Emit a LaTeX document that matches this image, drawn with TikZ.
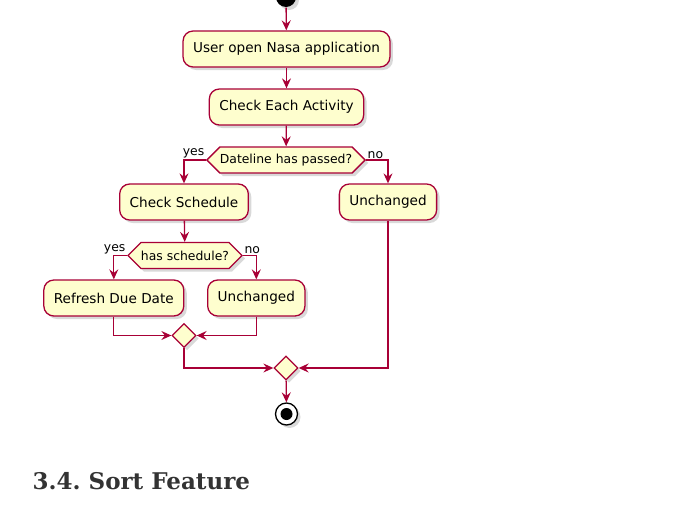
\documentclass[tikz,border=0pt]{standalone}
\usepackage{fontspec}
\setmainfont{DejaVu Sans}
\newfontfamily\headfont{DejaVu Serif}
\usepackage{tikz}
\usetikzlibrary{shapes,shapes.symbols,arrows.meta,shadows,positioning}
\definecolor{umlred}{HTML}{A80036}
\definecolor{umlfill}{HTML}{FEFECE}
\definecolor{headgray}{HTML}{333333}

\begin{document}
\begin{tikzpicture}[x=1pt, y=-1pt, line width=1.3pt,
      flow/.style={draw=umlred, -{Stealth[length=10pt, width=9pt, inset=3.5pt]}},
      shade/.style={drop shadow={opacity=0.3, shadow xshift=3pt, shadow yshift=-3pt}},
      activity/.style={draw=umlred, fill=umlfill, rectangle, rounded corners=10pt,
        minimum height=36pt, inner xsep=10pt, font=\fontsize{13.6}{16}\selectfont, shade},
      decision/.style={draw=umlred, fill=umlfill, signal, signal to=west and east,
        signal pointer angle=90, minimum height=26pt, inner xsep=0pt,
        font=\fontsize{12.4}{14}\selectfont, shade},
      merge/.style={draw=umlred, fill=umlfill, diamond, minimum size=24pt, inner sep=0pt, shade},
      branch/.style={font=\fontsize{12.4}{14}\selectfont, inner sep=1pt}]
    \useasboundingbox (0,0) rectangle (681,509);
    \node (start) at (286,-3) [circle, fill=black, minimum size=20pt, inner sep=0pt, shade] {};
    \node (open) at (286.5,49) [activity] {User open Nasa application};
    \node (each) at (286.5,107) [activity] {Check Each Activity};
    \node (passed) at (286,160) [decision] {Dateline has passed?};
    \node (schedule) at (184,202) [activity] {Check Schedule};
    \node (same) at (388,202) [activity] {Unchanged};
    \node (has) at (185,255.5) [decision] {has schedule?};
    \node (refresh) at (113.8,298) [activity] {Refresh Due Date};
    \node (keep) at (256.3,298) [activity] {Unchanged};
    \node (join) at (184,335.5) [merge] {};
    \node (endjoin) at (286,368) [merge] {};
    \node (stop) at (286.5,414) [circle, draw=black, fill=white, minimum size=22pt, inner sep=0pt, shade] {};
    \node at (stop) [circle, fill=black, minimum size=12pt, inner sep=0pt] {};
    \node (title) at (32,489) [anchor=base west, inner sep=0pt, text=headgray,
      font=\headfont\bfseries\frenchspacing\fontsize{23}{28}\selectfont] {3.4. Sort Feature};

    \draw[flow] (start) -- (open);
    \draw[flow] (open) -- (each);
    \draw[flow] (each) -- (passed);
    \draw[flow] (passed.west) -| (schedule.north);
    \node [branch, anchor=south east] at (passed.west) {yes};
    \draw[flow] (passed.east) -| (same.north);
    \node [branch, anchor=south west] at (passed.east) {no};
    \draw[flow] (schedule) -- (has);
    \draw[flow] (has.west) -| (refresh.north);
    \node [branch, anchor=south east] at (has.west) {yes};
    \draw[flow] (has.east) -| (keep.north);
    \node [branch, anchor=south west] at (has.east) {no};
    \draw[flow] (refresh.south) |- (join.west);
    \draw[flow] (keep.south) |- (join.east);
    \draw[flow] (join.south) |- (endjoin.west);
    \draw[flow] (same.south) |- (endjoin.east);
    \draw[flow] (endjoin) -- (stop);
  \end{tikzpicture}
\end{document}
